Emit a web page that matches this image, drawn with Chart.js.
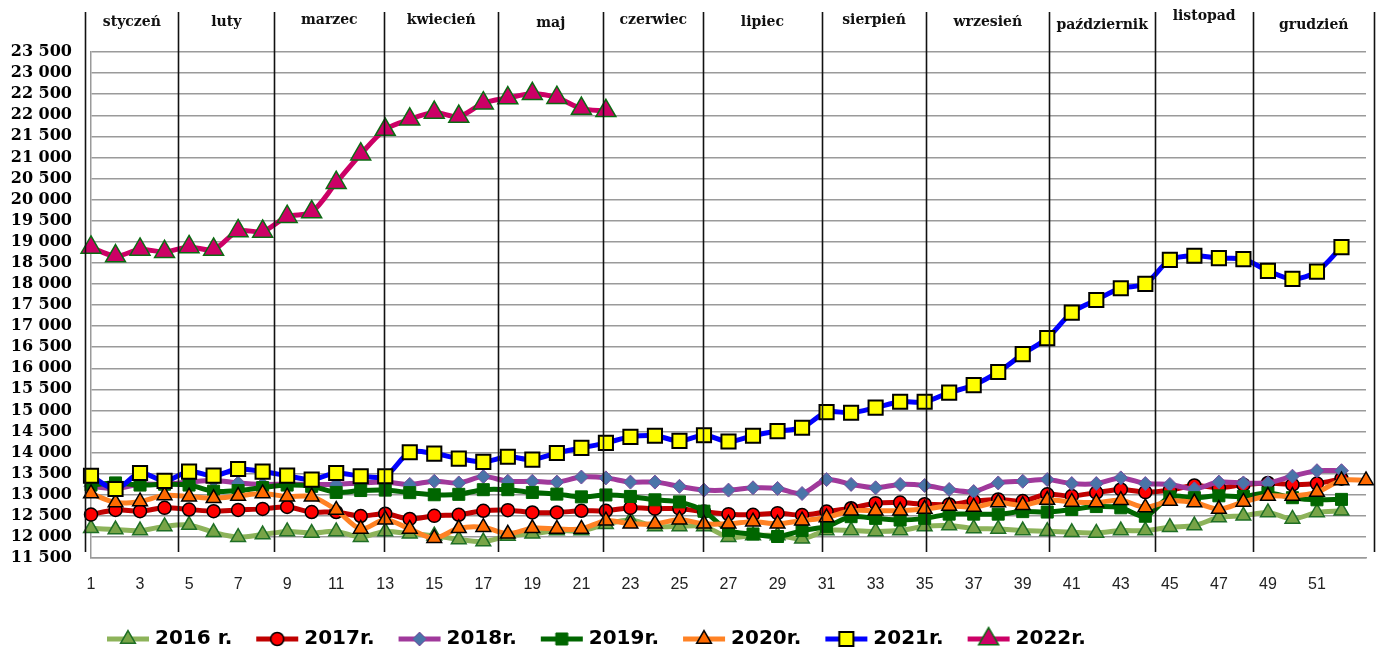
<!DOCTYPE html>
<html>
<head>
<meta charset="utf-8">
<script src="https://cdn.jsdelivr.net/npm/chart.js@4.4.1/dist/chart.umd.min.js"></script>
<style>
  html, body { margin: 0; padding: 0; background: #fff; }
  #wrap { width: 1386px; height: 653px; position: relative; }
</style>
</head>
<body>
<div id="wrap"><canvas id="chart"></canvas></div>
<script>
const weeks = ['1','2','3','4','5','6','7','8','9','10','11','12','13','14','15','16','17','18','19','20',
  '21','22','23','24','25','26','27','28','29','30','31','32','33','34','35','36','37','38','39','40',
  '41','42','43','44','45','46','47','48','49','50','51','52','53'];

const months = ['styczeń','luty','marzec','kwiecień','maj','czerwiec','lipiec','sierpień','wrzesień','październik','listopad','grudzień'];

const seriesNames = ['2016 r.', '2017r.', '2018r.', '2019r.', '2020r.', '2021r.', '2022r.'];

const v2016 = [12205, 12175, 12150, 12250, 12280, 12110, 11995, 12055, 12130, 12090, 12130, 11995, 12130, 12075, 12030, 11940, 11890, 12020, 12075, 12150,
  12150, 12300, 12400, 12250, 12250, 12250, 11995, 12035, 12035, 11955, 12150, 12150, 12130, 12150, 12250, 12270, 12200, 12190, 12150, 12135,
  12110, 12095, 12150, 12150, 12230, 12270, 12460, 12500, 12580, 12425, 12580, 12620];
const v2017 = [12530, 12640, 12610, 12690, 12650, 12610, 12640, 12665, 12710, 12590, 12590, 12495, 12550, 12425, 12500, 12525, 12620, 12635, 12580, 12580,
  12620, 12620, 12690, 12670, 12670, 12600, 12540, 12525, 12564, 12517, 12600, 12680, 12800, 12815, 12775, 12770, 12850, 12890, 12850, 13010,
  12970, 13050, 13125, 13063, 13110, 13220, 13165, 13240, 13280, 13240, 13265, 13380];
const v2018 = [13200, 13150, 13250, 13250, 13300, 13340, 13280, 13245, 13250, 13245, 13245, 13280, 13300, 13245, 13320, 13280, 13430, 13320, 13320, 13300,
  13420, 13400, 13300, 13300, 13200, 13110, 13110, 13165, 13150, 13030, 13360, 13245, 13165, 13245, 13220, 13125, 13075, 13280, 13320, 13360,
  13265, 13265, 13400, 13265, 13245, 13140, 13300, 13280, 13280, 13440, 13570, 13570];
const v2019 = [13230, 13280, 13230, 13250, 13230, 13085, 13100, 13170, 13230, 13200, 13055, 13100, 13110, 13050, 13000, 13010, 13120, 13120, 13055, 13015,
  12950, 12995, 12960, 12880, 12830, 12610, 12150, 12070, 12010, 12150, 12250, 12480, 12440, 12400, 12440, 12540, 12540, 12540, 12600, 12590,
  12650, 12720, 12690, 12490, 12950, 12930, 12975, 12960, 13040, 12930, 12880, 12890];
const v2020 = [13030, 12815, 12840, 12985, 12955, 12915, 12970, 13030, 12955, 12955, 12640, 12190, 12410, 12190, 11970, 12205, 12230, 12075, 12205, 12190,
  12190, 12385, 12310, 12310, 12410, 12310, 12310, 12360, 12310, 12385, 12460, 12620, 12620, 12620, 12660, 12735, 12710, 12815, 12750, 12875,
  12830, 12815, 12870, 12700, 12850, 12815, 12660, 12830, 12970, 12970, 13063, 13340, 13340];
const v2021 = [13450, 13136, 13516, 13330, 13550, 13452, 13610, 13550, 13452, 13360, 13516, 13440, 13440, 14007, 13976, 13857, 13780, 13900, 13833, 13990,
  14110, 14230, 14372, 14400, 14276, 14410, 14262, 14400, 14510, 14590, 14960, 14945, 15065, 15205, 15205, 15422, 15600, 15912, 16335, 16715,
  17319, 17619, 17898, 18000, 18571, 18667, 18612, 18588, 18310, 18119, 18293, 18874];
const v2022 = [18865, 18660, 18817, 18762, 18877, 18817, 19255, 19245, 19595, 19706, 20400, 21076, 21662, 21905, 22064, 21970, 22286, 22409, 22507, 22416,
  22159, 22104];

// month separators, in category-index units (week 1 = 0)
const monthEdges = [-0.23, 3.56, 7.48, 11.96, 16.6, 20.9, 24.97, 29.8, 34.07, 39.08, 43.4, 47.4, 52.34];
const monthLabelY = [22, 22, 20, 20, 23, 20, 22, 20, 22, 25, 16, 25];

const styles = [
  { line: '#8DB35A', fill: '#78A447', border: '#1F6F25', shape: 'triangle', r: 8.5, bw: 1.5 },
  { line: '#C00000', fill: '#FF0000', border: '#000000', shape: 'circle', r: 6.5, bw: 1.5 },
  { line: '#A0399B', fill: '#4A74A8', border: '#7A4C9E', shape: 'rectRot', r: 7, bw: 1 },
  { line: '#006600', fill: '#006600', border: '#006600', shape: 'rect', r: 8.5, bw: 1 },
  { line: '#FF8224', fill: '#FF6A00', border: '#000000', shape: 'triangle', r: 8.5, bw: 1.5 },
  { line: '#0000FF', fill: '#FFFF00', border: '#000000', shape: 'rect', r: 10, bw: 2 },
  { line: '#CC0066', fill: '#CC0066', border: '#0B6B12', shape: 'triangle', r: 11.5, bw: 1.5 }
];
const allValues = [v2016, v2017, v2018, v2019, v2020, v2021, v2022];

function legendIcon(s) {
  const c = document.createElement('canvas');
  c.width = 44; c.height = 26;
  const g = c.getContext('2d');
  g.strokeStyle = s.line; g.lineWidth = 5;
  g.beginPath(); g.moveTo(1, 13); g.lineTo(43, 13); g.stroke();
  g.fillStyle = s.fill; g.strokeStyle = s.border; g.lineWidth = s.bw;
  Chart.helpers.drawPoint(g, { pointStyle: s.shape, radius: s.r, borderWidth: s.bw, rotation: 0 }, 22, 13);
  return c;
}
const icons = styles.map(legendIcon);

const datasets = allValues.map((vals, i) => ({
  label: seriesNames[i],
  data: vals,
  borderColor: styles[i].line,
  borderWidth: 5,
  backgroundColor: styles[i].fill,
  pointStyle: styles[i].shape,
  pointRadius: styles[i].r,
  pointBackgroundColor: styles[i].fill,
  pointBorderColor: styles[i].border,
  pointBorderWidth: styles[i].bw,
  tension: 0.3,
  fill: false,
  clip: false,
  order: allValues.length - i
}));

const monthPlugin = {
  id: 'monthPlugin',
  afterDatasetsDraw(chart) {
    const { ctx } = chart;
    const x = chart.scales.x;
    ctx.save();
    ctx.strokeStyle = '#111';
    ctx.lineWidth = 1.6;
    monthEdges.forEach(e => {
      const px = Math.round(x.getPixelForValue(e)) + 0.5;
      ctx.beginPath(); ctx.moveTo(px, 12); ctx.lineTo(px, 552); ctx.stroke();
    });
    ctx.font = 'bold 14px "DejaVu Serif"';
    ctx.textAlign = 'center';
    ctx.textBaseline = 'middle';
    ctx.fillStyle = '#111';
    months.forEach((m, i) => {
      const px = (x.getPixelForValue(monthEdges[i]) + x.getPixelForValue(monthEdges[i + 1])) / 2;
      ctx.fillText(m, px, monthLabelY[i]);
    });
    ctx.restore();
  }
};

const legendPlace = {
  id: 'legendPlace',
  afterLayout(chart) {
    chart.legend.left = 83;
    chart.legend.top = 601;
  }
};

const fmt = v => String(v).replace(/\B(?=(\d{3})+(?!\d))/g, ' ');

new Chart(document.getElementById('chart'), {
  type: 'line',
  data: { labels: weeks, datasets: datasets },
  options: {
    responsive: true,
    maintainAspectRatio: false,
    animation: false,
    layout: { padding: { top: 52, right: 20, left: 0, bottom: 0 } },
    plugins: {
      tooltip: { enabled: false },
      legend: {
        position: 'bottom',
        align: 'start',
        labels: {
          usePointStyle: true,
          pointStyleWidth: 34,
          padding: 28,
          color: '#000',
          font: { family: '"DejaVu Sans"', size: 20, weight: 'bold' },
          generateLabels: chart => chart.data.datasets.map((ds, i) => ({
            text: ds.label,
            pointStyle: icons[i],
            datasetIndex: i,
            fontColor: '#000',
            lineWidth: 0,
            strokeStyle: 'rgba(0,0,0,0)',
            fillStyle: 'rgba(0,0,0,0)',
            hidden: false
          }))
        }
      }
    },
    scales: {
      x: {
        offset: false,
        grid: { display: false, drawTicks: false },
        border: { display: true, color: '#9a9a9a', width: 1.5 },
        ticks: {
          autoSkip: false,
          maxRotation: 0,
          padding: 17,
          color: '#222',
          font: { family: '"Liberation Sans"', size: 16 },
          callback: (v, i) => (i % 2 === 0 && i < 52) ? weeks[i] : ''
        },
        afterFit: s => { s.height = s.chart.height - 558 - s.chart.legend.height; }
      },
      y: {
        min: 11500,
        max: 23500,
        grid: { color: '#9a9a9a', lineWidth: 1.5, drawTicks: false },
        border: { display: true, color: '#9a9a9a', width: 1.5 },
        ticks: {
          stepSize: 500,
          autoSkip: false,
          padding: 19,
          color: '#000',
          font: { family: '"DejaVu Serif"', size: 16, weight: 'bold' },
          callback: v => fmt(v)
        },
        afterFit: s => { s.width = 91; }
      }
    }
  },
  plugins: [monthPlugin, legendPlace]
});
</script>
</body>
</html>
